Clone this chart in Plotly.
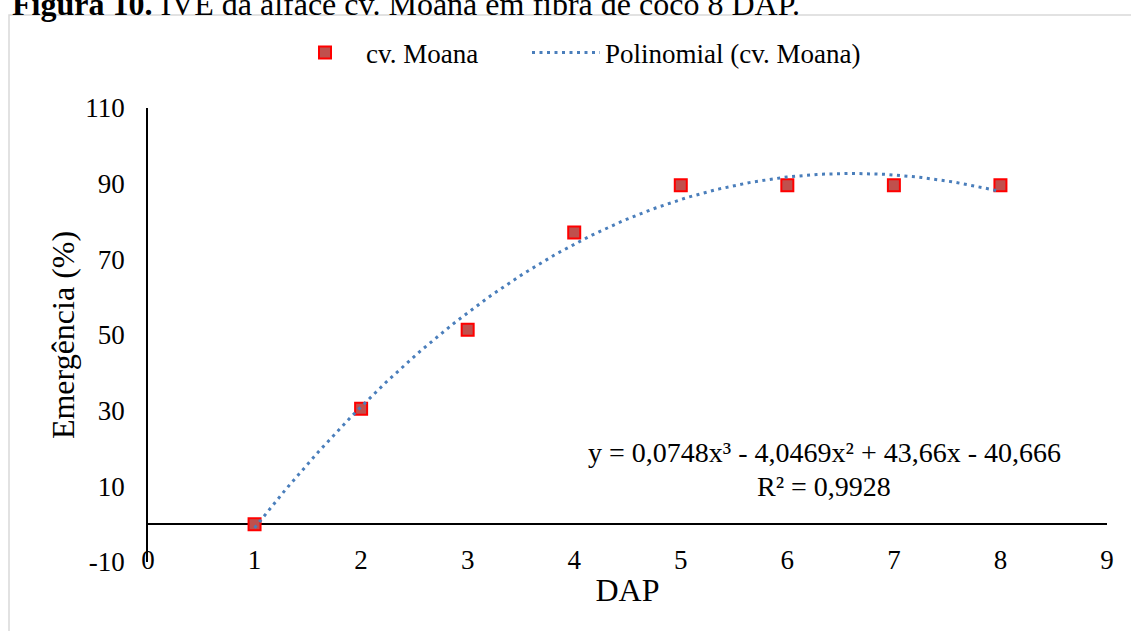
import plotly.graph_objects as go
import numpy as np

# Data
dap = [1, 2, 3, 4, 5, 6, 7, 8]
emergencia = [0.0, 30.5, 51.4, 77.1, 89.6, 89.6, 89.6, 89.6]
# Polynomial trendline coefficients (as printed on the chart): a3, a2, a1, a0
coef = [0.0748, -4.0469, 43.66, -40.666]
y_ticks = [-10, 10, 30, 50, 70, 90, 110]
y_tick_text = ["-10", "10", "30", "50", "70", "90", "110"]
x_ticks = [0, 1, 2, 3, 4, 5, 6, 7, 8, 9]
eq_line1 = "y = 0,0748x³ - 4,0469x² + 43,66x - 40,666"
eq_line2 = "R² = 0,9928"

FONT = "Times New Roman, Liberation Serif, serif"
W, H = 1131, 631
L, R, T, B = 148, 1107, 108, 562  # plot area in px


def px_x(p):
    return (p - L) / (R - L)


def px_y(p):
    return (B - p) / (B - T)


xs = np.linspace(min(dap), max(dap), 200)
ys = np.polyval(coef, xs)

fig = go.Figure()
fig.add_trace(go.Scatter(
    x=dap, y=emergencia, mode="markers", name="cv. Moana",
    marker=dict(symbol="square", size=12, color="#C0504D",
                line=dict(color="#FF0000", width=2)),
    legend="legend", showlegend=True,
))
fig.add_trace(go.Scatter(
    x=xs, y=ys, mode="lines", name="Polinomial (cv. Moana)",
    line=dict(color="#4A7EBB", width=3, dash="3px,4.5px"),
    legend="legend2", showlegend=True,
))

fig.update_layout(
    width=W, height=H, showlegend=True,
    margin=dict(l=L, r=W - R, t=T, b=H - B),
    paper_bgcolor="white", plot_bgcolor="white",
    font=dict(family=FONT, size=27, color="black"),
    legend=dict(orientation="h", x=px_x(284), y=px_y(53), xanchor="left",
                yanchor="middle", itemwidth=72, bgcolor="rgba(0,0,0,0)",
                font=dict(family=FONT, size=27), visible=True),
    legend2=dict(orientation="h", x=px_x(527), y=px_y(53), xanchor="left",
                 yanchor="middle", itemwidth=68, bgcolor="rgba(0,0,0,0)",
                 font=dict(family=FONT, size=27), visible=True),
    xaxis=dict(range=[0, 9], tickvals=x_ticks, showgrid=False, zeroline=False,
               showline=False, ticks="", ticklabelstandoff=-21,
               title=dict(text="DAP", standoff=4)),
    yaxis=dict(range=[-10, 110], tickvals=y_ticks, ticktext=y_tick_text,
               showgrid=False,
               zeroline=True, zerolinecolor="black", zerolinewidth=1.5,
               showline=True, linecolor="black", linewidth=1.5, ticks="",
               ticklabelstandoff=16,
               title=dict(text="Emergência (%)", standoff=1)),
    annotations=[
        dict(text=eq_line1, xref="paper", yref="paper", x=px_x(824), y=px_y(452),
             xanchor="center", yanchor="middle", showarrow=False,
             font=dict(family=FONT, size=28)),
        dict(text=eq_line2, xref="paper", yref="paper", x=px_x(824), y=px_y(486),
             xanchor="center", yanchor="middle", showarrow=False,
             font=dict(family=FONT, size=28)),
        dict(text="<b>Figura 10.</b> IVE da alface cv. Moana em fibra de coco 8 DAP.",
             xref="paper", yref="paper", x=px_x(10), y=px_y(4),
             xanchor="left", yanchor="middle", showarrow=False,
             font=dict(family=FONT, size=32)),
    ],
    shapes=[
        dict(type="rect", xref="paper", yref="paper", x0=px_x(9), x1=px_x(1140),
             y0=px_y(640), y1=px_y(15), line=dict(color="#D9D9D9", width=1.5),
             layer="below"),
    ],
)

fig.write_html("out.html")
